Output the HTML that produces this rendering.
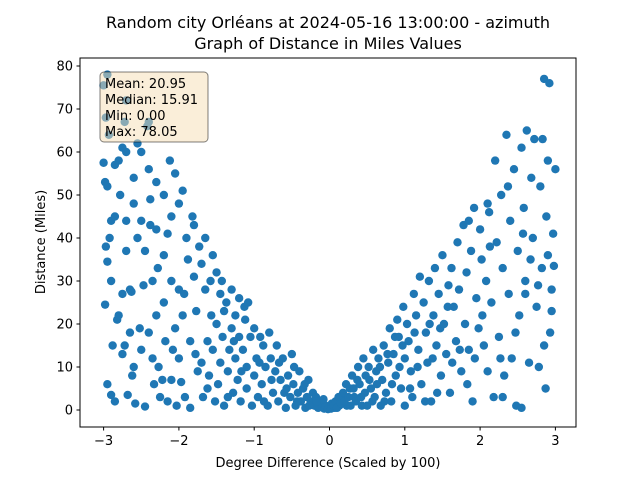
<!DOCTYPE html>
<html><head><meta charset="utf-8"><style>
body{margin:0;background:#fff}
svg{display:block;font-family:"DejaVu Sans","Liberation Sans",sans-serif}
</style></head><body>
<svg id="c" width="640" height="480">
<rect x="0" y="0" width="640" height="480" fill="#fff"/>
<text x="328" y="28" text-anchor="middle" font-size="16">Random city Orléans at 2024-05-16 13:00:00  - azimuth</text>
<text x="328" y="49" text-anchor="middle" font-size="16">Graph of Distance in Miles Values</text>
<g id="pts"></g>
<rect x="80" y="58" width="496" height="369" fill="none" stroke="#000" stroke-width="1"/>
<g id="ax"></g>
<text x="328" y="467" text-anchor="middle" font-size="13">Degree Difference (Scaled by 100)</text>
<text transform="translate(45,242) rotate(-90)" text-anchor="middle" font-size="13">Distance (Miles)</text>
<g>
<rect x="100" y="72" width="108" height="70" rx="4" fill="rgb(245,222,179)" fill-opacity="0.5" stroke="#000" stroke-opacity="0.5"/>
<text x="105" y="88" font-size="13">Mean: 20.95</text>
<text x="105" y="104" font-size="13">Median: 15.91</text>
<text x="105" y="120" font-size="13">Min: 0.00</text>
<text x="105" y="136" font-size="13">Max: 78.05</text>
</g>
</svg>
<script>
const xTicks=[-3,-2,-1,0,1,2,3];
const yTicks=[0,10,20,30,40,50,60,70,80];
const pts=[[-3.0,75.5],[-2.95,78],[-2.97,68],[-2.93,64],[-3.0,57.5],[-2.98,53],[-2.95,52],[-2.9,44],[-2.85,45],[-2.97,38],[-2.95,34.5],[-2.98,24.5],[-2.9,30],[-2.88,15],[-2.95,6],[-2.9,3.5],[-2.85,2],[-2.8,58],[-2.85,57],[-2.78,50],[-2.82,21],[-2.8,22],[-2.75,13],[-2.7,72],[-2.72,67],[-2.75,61],[-2.7,60],[-2.7,44],[-2.7,37],[-2.72,15],[-2.65,28],[-2.63,27.5],[-2.65,18],[-2.68,3.5],[-2.6,54],[-2.6,48],[-2.6,10],[-2.58,1.5],[-2.55,62],[-2.5,60],[-2.55,40],[-2.5,44],[-2.52,19],[-2.5,14],[-2.47,29],[-2.45,0.8],[-2.42,66],[-2.4,67],[-2.4,56],[-2.38,49],[-2.38,43],[-2.4,18],[-2.35,12],[-2.33,6],[-2.3,53],[-2.3,42],[-2.28,33],[-2.3,22],[-2.27,10],[-2.25,3],[-2.22,7],[-2.2,50],[-2.2,36],[-2.2,25],[-2.18,16],[-2.15,2],[-2.12,58],[-2.1,45],[-2.1,30],[-2.1,7],[-2.05,55],[-2.05,19],[-2.03,1],[-2.0,48],[-2.0,28],[-2.0,12],[-1.97,6.5],[-1.95,51],[-1.95,22],[-1.92,3],[-1.9,40],[-1.88,35],[-1.85,16],[-1.85,0.5],[-1.82,45],[-1.8,43],[-1.8,31],[-1.78,13],[-1.75,9],[-1.73,38],[-1.7,34],[-1.7,11],[-1.68,3],[-1.65,40],[-1.65,28],[-1.62,16],[-1.6,8],[-1.58,30],[-1.55,36],[-1.55,14],[-1.52,2],[-1.5,32],[-1.5,20],[-1.48,6],[-1.45,27],[-1.45,11],[-1.42,17],[-1.4,23],[-1.4,1],[-1.37,25],[-1.35,9],[-1.33,14],[-1.3,28],[-1.3,19],[-1.28,4],[-1.25,22],[-1.25,12],[-1.22,7],[-1.2,26],[-1.2,17],[-1.18,2],[-1.15,14],[-1.12,21],[-1.1,10],[-1.1,5],[-1.08,25],[-1.05,17],[-1.03,1],[-1.0,19],[-1.0,8],[-0.97,12],[-0.95,3],[-0.92,17],[-0.9,6],[-0.88,15],[-0.85,10],[-0.82,1],[-0.8,18],[-0.78,12],[-0.75,4],[-0.72,9],[-0.7,15],[-0.68,2],[-0.65,7],[-0.62,12],[-0.6,4],[-0.58,0.5],[-0.55,8],[-0.52,3],[-0.5,13],[-0.48,6],[-0.45,1],[-0.42,4],[-0.4,9],[-0.38,2],[-0.35,5],[-0.32,0.5],[-0.3,3],[-0.28,7],[-0.25,2],[-0.22,4],[-0.2,1],[-0.18,3],[-0.15,0.5],[-0.12,2],[-0.1,1],[-0.07,0.3],[-0.05,1],[-0.02,0.2],
[-2.92,40],[-2.75,27],[-2.62,8],[-2.45,37],[-2.35,30],[-2.15,41],[-2.08,14],[-1.93,27],[-1.77,23],[-1.62,5],[-1.57,22],[-1.43,30],[-1.35,3],[-1.27,16],[-1.17,9],[-1.13,24],[-0.93,11],[-0.87,2],[-0.77,7],[-0.67,11],[-0.57,5],[-0.47,10],[-0.43,2],[-0.33,6],[-0.27,1],[-0.17,2],[-0.08,2.5],
[0.03,1.5],[0.07,0.5],[0.13,1],[0.17,2.5],[0.23,1],[0.27,5],[0.33,3],[0.37,7],[0.43,1],[0.47,4],[0.53,7],[0.57,2],[0.63,6],[0.67,10],[0.73,2],[0.77,13],[0.83,6],[0.87,17],[0.93,10],[0.97,15],[1.07,5],[1.13,18],[1.17,10],[1.27,2],[1.33,20],[1.37,12],[1.43,4],[1.47,19],[1.57,24],[1.63,11],[1.73,14],[1.83,6],[1.93,12],[2.03,22],[2.13,38],[2.27,12],[2.37,52],[2.47,18],[2.57,41],[2.67,35],[2.77,29],[2.87,5],[2.83,63],[2.95,28],
[0.02,0.3],[0.05,1],[0.08,2],[0.1,0.5],[0.12,3],[0.15,1.5],[0.18,4],[0.2,2],[0.22,6],[0.25,3],[0.28,1],[0.3,8],[0.32,5],[0.35,2],[0.38,10],[0.4,6],[0.42,3],[0.45,12],[0.48,8],[0.5,1],[0.52,10],[0.55,5],[0.58,14],[0.6,3],[0.62,9],[0.65,12],[0.68,1],[0.7,7],[0.72,15],[0.75,4],[0.78,11],[0.8,19],[0.82,2],[0.85,13],[0.88,8],[0.9,21],[0.92,17],[0.95,5],[0.98,24],[1.0,12],[1.0,1],[1.03,20],[1.05,16],[1.08,9],[1.1,3],[1.12,27],[1.15,22],[1.18,14],[1.2,31],[1.22,6],[1.25,25],[1.28,18],[1.3,11],[1.32,30],[1.35,2],[1.38,22],[1.4,33],[1.42,15],[1.45,27],[1.48,8],[1.5,36],[1.52,20],[1.55,13],[1.58,29],[1.6,4],[1.62,33],[1.65,24],[1.68,16],[1.7,39],[1.72,28],[1.75,9],[1.78,43],[1.8,20],[1.82,32],[1.85,14],[1.88,37],[1.9,2],[1.92,47],[1.95,26],[1.98,19],[2.0,42],[2.02,35],[2.05,15],[2.08,30],[2.1,9],[2.12,46],[2.15,25],[2.18,3],[2.2,58],[2.22,39],[2.25,17],[2.28,50],[2.3,33],[2.32,8],[2.35,64],[2.38,27],[2.4,44],[2.42,12],[2.45,56],[2.48,1],[2.5,37],[2.52,22],[2.55,61],[2.58,47],[2.6,30],[2.62,65],[2.65,11],[2.68,54],[2.7,40],[2.72,63],[2.75,24],[2.78,10],[2.8,52],[2.82,33],[2.85,77],[2.85,15],[2.88,45],[2.9,58],[2.9,36],[2.92,76],[2.93,18],[2.95,23],[2.97,41],[3.0,56],[2.98,33.5],[2.55,0.5],[2.3,3],[2.6,27],[2.1,48],[1.85,44]];
const NS='http://www.w3.org/2000/svg';
const X=v=>329.5+v*75.3;
const Y=v=>410-v*4.3;
const g=document.getElementById('pts');
pts.forEach(p=>{
  const c=document.createElementNS(NS,'circle');
  c.setAttribute('cx',X(p[0]));c.setAttribute('cy',Y(p[1]));c.setAttribute('r',4.2);
  c.setAttribute('fill','#1f77b4');
  
  
  g.appendChild(c);
});
const ax=document.getElementById('ax');
xTicks.forEach(t=>{
  const l=document.createElementNS(NS,'line');
  l.setAttribute('x1',X(t));l.setAttribute('x2',X(t));l.setAttribute('y1',427);l.setAttribute('y2',430.5);l.setAttribute('stroke','#000');
  
  
  ax.appendChild(l);
  const tx=document.createElementNS(NS,'text');
  tx.setAttribute('x',X(t));tx.setAttribute('y',445);tx.setAttribute('text-anchor','middle');tx.setAttribute('font-size','13');
  tx.textContent=t<0?'\u2212'+(-t):String(t);
  
  
  ax.appendChild(tx);
});
yTicks.forEach(t=>{
  const l=document.createElementNS(NS,'line');
  l.setAttribute('x1',76.5);l.setAttribute('x2',80);l.setAttribute('y1',Y(t));l.setAttribute('y2',Y(t));l.setAttribute('stroke','#000');
  
  
  ax.appendChild(l);
  const tx=document.createElementNS(NS,'text');
  tx.setAttribute('x',73);tx.setAttribute('y',Y(t)+4.5);tx.setAttribute('text-anchor','end');tx.setAttribute('font-size','13');
  tx.textContent=String(t);
  
  
  ax.appendChild(tx);
});
</script>
</body></html>
